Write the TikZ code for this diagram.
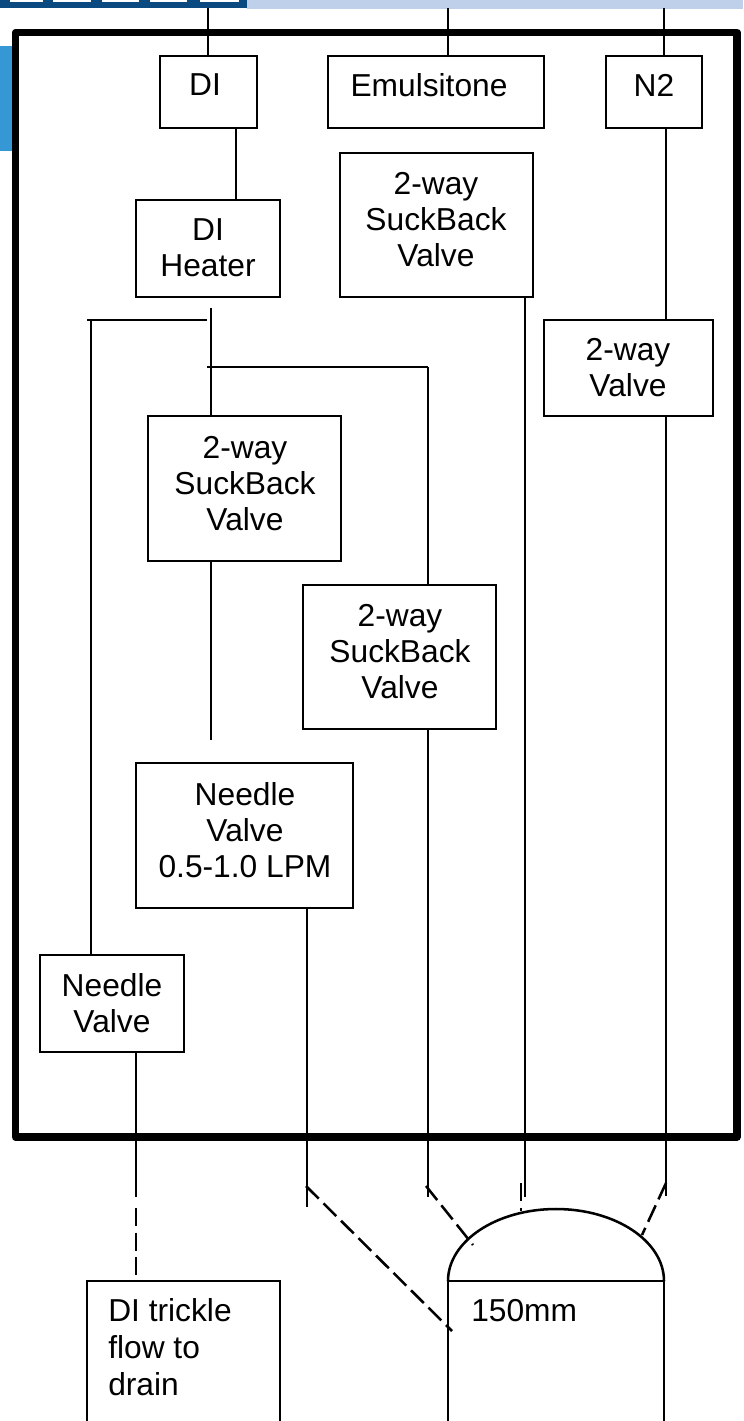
\documentclass[tikz,border=0pt]{standalone}
\usepackage{fontspec}
\setmainfont{Liberation Sans}
\definecolor{navy}{HTML}{0B4A80}
\definecolor{paleblue}{HTML}{BFD1EA}
\definecolor{midblue}{HTML}{3597D3}
\tikzset{
  box/.style={draw=black,line width=1.9pt,fill=none},
  pipe/.style={draw=black,line width=1.9pt},
  dashpipe/.style={draw=black,line width=1.9pt,dash pattern=on 13.5pt off 5pt},
  lab/.style={font=\fontsize{23.8}{27}\selectfont,align=center,inner sep=0pt,text=black},
  labl/.style={font=\fontsize{23.8}{27.6}\selectfont,align=left,inner sep=0pt,text=black,anchor=west},
}
\begin{document}
\begin{tikzpicture}[x=0.75pt,y=-0.75pt]
\useasboundingbox (0,0) rectangle (743,1421);
% background fragments
\fill[paleblue] (247,0) rectangle (743,9);
\fill[navy] (0,0) rectangle (247,8);
\foreach \a/\b in {10/43,53/91,102/139,150/187,200/239}{\fill[white] (\a,0) rectangle (\b,2);}
\fill[midblue] (0,46) rectangle (13,151);
% frame
\draw[line width=5.6pt,line join=round] (15.5,32.5) rectangle (737,1137);
% boxes
\draw[box] (160,56) rectangle (257,128);
\node[lab] (di) at (205,85) {DI};
\draw[box] (328,56) rectangle (544,128);
\node[lab] (em) at (429,85) {Emulsitone};
\draw[box] (606,56) rectangle (702,128);
\node[lab] (n2) at (654,85) {N2};
\draw[box] (136,200) rectangle (280,297);
\node[lab] (heater) at (208,248) {DI\\Heater};
\draw[box] (340,153) rectangle (533,297);
\node[lab] (sb1) at (436,220) {2-way\\SuckBack\\Valve};
\draw[box] (544,320) rectangle (713,416);
\node[lab] (v2) at (628,368) {2-way\\Valve};
\draw[box] (148,416) rectangle (341,561);
\node[lab] (sb2) at (245,484) {2-way\\SuckBack\\Valve};
\draw[box] (303,585) rectangle (496,729);
\node[lab] (sb3) at (400,652) {2-way\\SuckBack\\Valve};
\draw[box] (136,763) rectangle (353,908);
\node[lab] (nv1) at (245,830) {Needle\\Valve\\0.5-1.0 LPM};
\draw[box] (40,955) rectangle (184,1052);
\node[lab] (nv2) at (112,1003) {Needle\\Valve};
% pipes
\draw[pipe] (208,8) -- (208,56);
\draw[pipe] (448,8) -- (448,56);
\draw[pipe] (664,8) -- (664,56);
\draw[pipe] (236,128) -- (236,200);
\draw[pipe] (666,128) -- (666,320);
\draw[pipe] (666,416) -- (666,1196);
\draw[pipe] (525,297) -- (525,1197);
\draw[pipe] (91,320) -- (91,955);
\draw[pipe] (87,320) -- (207,320);
\draw[pipe] (211,308) -- (211,416);
\draw[pipe] (207,367) -- (428,367);
\draw[pipe] (428,367) -- (428,585);
\draw[pipe] (211,561) -- (211,740);
\draw[pipe] (428,729) -- (428,1197);
\draw[pipe] (307,908) -- (307,1207);
\draw[pipe] (136,1052) -- (136,1197);
% dashed
\draw[dashpipe] (136,1208) -- (136,1281);
\draw[dashpipe] (306,1186) -- (452,1331);
\draw[dashpipe] (426,1186) -- (473,1245);
\draw[dashpipe] (521,1183) -- (521,1211);
\draw[dashpipe] (666,1183) -- (642,1235);
% drain
\draw[pipe] (87,1421) -- (87,1281) -- (280,1281) -- (280,1421);
\node[labl] (drain) at (108,1347) {DI trickle\\flow to\\drain};
% wafer
\draw[pipe] (448,1421) -- (448,1281) -- (664,1281) -- (664,1421);
\draw[pipe] (448,1281) arc[start angle=180,end angle=0,x radius=108,y radius=-72];
\node[labl] (mm) at (471,1311) {150mm};
\end{tikzpicture}
\end{document}
